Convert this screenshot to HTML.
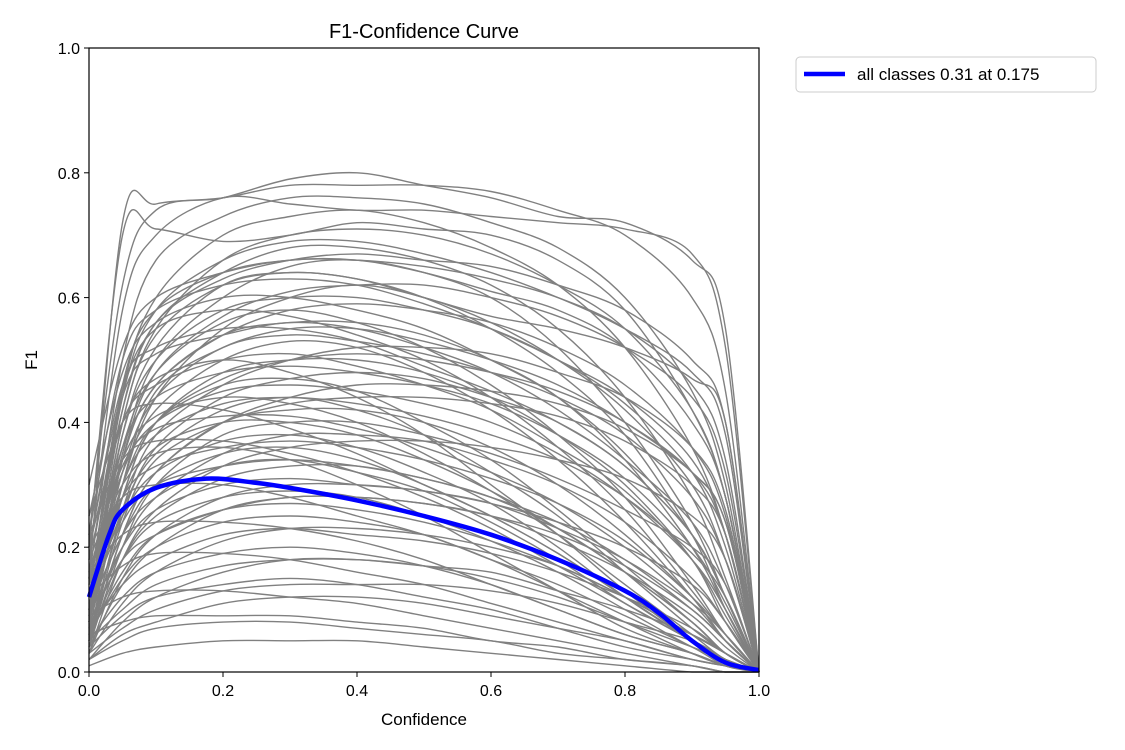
<!DOCTYPE html>
<html>
<head>
<meta charset="utf-8">
<style>
  html, body { margin:0; padding:0; background:#fff; }
  svg { display:block; font-family:"Liberation Sans", "DejaVu Sans", sans-serif; }
</style>
</head>
<body>
<svg id="chart" width="1125" height="750" viewBox="0 0 1125 750">
  <rect x="0" y="0" width="1125" height="750" fill="#fff"/>
  <text x="424" y="38" font-size="20" text-anchor="middle" fill="#000">F1-Confidence Curve</text>
  <g id="gray"></g>
  <g id="blue"></g>
  <rect x="89" y="48" width="670" height="624" fill="none" stroke="#000" stroke-width="1.2"/>
  <g id="xticks"></g>
  <g id="yticks"></g>
  <text x="424" y="725" font-size="17" text-anchor="middle">Confidence</text>
  <text transform="translate(37,360) rotate(-90)" font-size="17" text-anchor="middle">F1</text>
  <g>
    <rect x="796" y="57" width="300" height="35" rx="4" fill="#fff" stroke="#ccc" stroke-width="1"/>
    <line x1="804" y1="74" x2="845" y2="74" stroke="#0000ff" stroke-width="4.5"/>
    <text x="857" y="80" font-size="17">all classes 0.31 at 0.175</text>
  </g>
</svg>
<script>
const confGrid = [0,0.05,0.1,0.2,0.3,0.4,0.5,0.6,0.7,0.8,0.9,0.95,1.0];
const classCurves = [
[0.22,0.62,0.74,0.76,0.79,0.80,0.78,0.76,0.73,0.72,0.66,0.55,0],
[0.18,0.58,0.70,0.76,0.75,0.74,0.74,0.73,0.72,0.71,0.67,0.52,0],
[0.15,0.50,0.66,0.73,0.76,0.76,0.75,0.72,0.68,0.60,0.45,0.30,0],
[0.12,0.45,0.60,0.70,0.73,0.74,0.72,0.68,0.62,0.52,0.36,0.22,0],
[0.10,0.40,0.55,0.66,0.70,0.71,0.70,0.67,0.62,0.55,0.42,0.28,0],
[0.14,0.42,0.56,0.64,0.68,0.68,0.66,0.62,0.55,0.44,0.28,0.15,0],
[0.10,0.35,0.50,0.60,0.65,0.66,0.64,0.60,0.52,0.40,0.24,0.12,0],
[0.08,0.38,0.52,0.62,0.64,0.63,0.60,0.55,0.48,0.38,0.22,0.10,0],
[0.12,0.36,0.48,0.56,0.58,0.56,0.52,0.46,0.38,0.28,0.14,0.06,0],
[0.10,0.34,0.46,0.54,0.56,0.56,0.54,0.50,0.44,0.34,0.20,0.10,0],
[0.09,0.30,0.44,0.55,0.60,0.62,0.60,0.56,0.50,0.42,0.30,0.18,0],
[0.15,0.32,0.42,0.50,0.53,0.52,0.48,0.42,0.34,0.24,0.12,0.05,0],
[0.08,0.28,0.40,0.48,0.50,0.50,0.48,0.44,0.38,0.30,0.18,0.08,0],
[0.12,0.30,0.40,0.46,0.47,0.45,0.40,0.34,0.26,0.17,0.08,0.03,0],
[0.06,0.25,0.36,0.44,0.47,0.48,0.47,0.44,0.40,0.33,0.22,0.12,0],
[0.10,0.26,0.35,0.42,0.44,0.42,0.38,0.32,0.25,0.16,0.07,0.03,0],
[0.05,0.22,0.32,0.40,0.42,0.42,0.40,0.36,0.30,0.22,0.12,0.05,0],
[0.12,0.25,0.32,0.37,0.38,0.36,0.32,0.27,0.20,0.12,0.05,0.02,0],
[0.07,0.20,0.28,0.35,0.38,0.38,0.37,0.34,0.30,0.24,0.15,0.08,0],
[0.10,0.22,0.28,0.33,0.34,0.32,0.29,0.24,0.18,0.11,0.05,0.02,0],
[0.05,0.18,0.25,0.31,0.33,0.33,0.31,0.28,0.23,0.16,0.08,0.03,0],
[0.08,0.18,0.24,0.28,0.29,0.28,0.25,0.21,0.16,0.10,0.04,0.02,0],
[0.04,0.14,0.20,0.26,0.28,0.28,0.27,0.25,0.21,0.16,0.09,0.04,0],
[0.06,0.15,0.20,0.24,0.25,0.24,0.22,0.18,0.14,0.09,0.04,0.01,0],
[0.03,0.11,0.16,0.21,0.23,0.23,0.22,0.20,0.17,0.12,0.06,0.03,0],
[0.05,0.12,0.16,0.19,0.20,0.19,0.17,0.14,0.10,0.06,0.03,0.01,0],
[0.02,0.08,0.12,0.16,0.18,0.18,0.17,0.15,0.12,0.08,0.04,0.02,0],
[0.04,0.09,0.12,0.14,0.15,0.14,0.12,0.10,0.07,0.04,0.02,0.01,0],
[0.02,0.06,0.08,0.11,0.12,0.12,0.11,0.09,0.07,0.05,0.02,0.01,0],
[0.02,0.05,0.07,0.08,0.08,0.07,0.06,0.05,0.03,0.02,0.01,0,0],
[0.01,0.03,0.04,0.05,0.05,0.05,0.04,0.03,0.02,0.01,0,0,0],
[0.30,0.52,0.60,0.64,0.66,0.66,0.64,0.61,0.58,0.52,0.40,0.28,0],
[0.25,0.48,0.56,0.60,0.60,0.58,0.55,0.50,0.44,0.35,0.22,0.12,0],
[0.20,0.45,0.55,0.58,0.57,0.54,0.50,0.44,0.36,0.26,0.13,0.06,0],
[0.10,0.44,0.58,0.66,0.69,0.69,0.67,0.64,0.60,0.55,0.48,0.38,0],
[0.08,0.40,0.54,0.62,0.64,0.63,0.60,0.57,0.55,0.52,0.47,0.40,0],
[0.05,0.30,0.45,0.52,0.55,0.55,0.53,0.50,0.46,0.40,0.32,0.24,0],
[0.20,0.40,0.47,0.50,0.48,0.44,0.38,0.30,0.22,0.13,0.05,0.02,0],
[0.15,0.34,0.41,0.44,0.43,0.40,0.35,0.29,0.22,0.14,0.06,0.02,0],
[0.18,0.30,0.35,0.36,0.34,0.30,0.25,0.19,0.13,0.07,0.03,0.01,0],
[0.15,0.72,0.75,0.76,0.78,0.78,0.78,0.77,0.74,0.70,0.60,0.45,0],
[0.20,0.70,0.71,0.69,0.70,0.72,0.71,0.70,0.66,0.58,0.42,0.28,0],
[0.05,0.24,0.34,0.40,0.43,0.44,0.44,0.43,0.41,0.37,0.30,0.22,0],
[0.04,0.20,0.30,0.38,0.40,0.40,0.38,0.35,0.31,0.26,0.20,0.14,0],
[0.03,0.15,0.22,0.28,0.30,0.30,0.29,0.27,0.24,0.20,0.14,0.08,0],
[0.12,0.28,0.36,0.40,0.40,0.38,0.34,0.29,0.23,0.16,0.08,0.03,0],
[0.10,0.22,0.30,0.35,0.36,0.34,0.30,0.25,0.19,0.12,0.05,0.02,0],
[0.06,0.16,0.22,0.26,0.27,0.26,0.24,0.21,0.17,0.12,0.06,0.03,0],
[0.20,0.46,0.52,0.55,0.55,0.53,0.49,0.45,0.40,0.33,0.22,0.12,0],
[0.16,0.44,0.51,0.54,0.56,0.55,0.52,0.48,0.42,0.34,0.24,0.14,0],
[0.18,0.40,0.46,0.50,0.51,0.49,0.46,0.42,0.36,0.29,0.18,0.09,0],
[0.14,0.36,0.44,0.48,0.49,0.48,0.46,0.43,0.38,0.31,0.20,0.11,0],
[0.12,0.32,0.40,0.45,0.46,0.45,0.43,0.40,0.35,0.28,0.18,0.10,0],
[0.10,0.30,0.38,0.43,0.44,0.43,0.41,0.38,0.34,0.28,0.19,0.12,0],
[0.08,0.32,0.44,0.52,0.54,0.53,0.51,0.48,0.44,0.38,0.28,0.18,0],
[0.07,0.28,0.40,0.47,0.50,0.51,0.50,0.48,0.45,0.40,0.32,0.22,0],
[0.16,0.33,0.39,0.41,0.41,0.39,0.36,0.32,0.27,0.20,0.11,0.05,0],
[0.14,0.28,0.33,0.36,0.37,0.36,0.34,0.31,0.27,0.21,0.12,0.06,0],
[0.11,0.24,0.30,0.33,0.34,0.33,0.31,0.28,0.24,0.18,0.10,0.05,0],
[0.09,0.20,0.26,0.30,0.31,0.30,0.29,0.27,0.23,0.18,0.11,0.06,0],
[0.08,0.18,0.22,0.26,0.28,0.28,0.27,0.25,0.22,0.17,0.10,0.05,0],
[0.07,0.14,0.18,0.22,0.23,0.22,0.21,0.19,0.16,0.12,0.07,0.03,0],
[0.05,0.10,0.14,0.17,0.18,0.18,0.17,0.16,0.13,0.10,0.06,0.03,0],
[0.03,0.07,0.10,0.13,0.14,0.14,0.14,0.13,0.11,0.08,0.05,0.02,0],
[0.22,0.50,0.58,0.62,0.63,0.62,0.59,0.55,0.50,0.44,0.34,0.22,0],
[0.12,0.46,0.58,0.64,0.66,0.66,0.65,0.63,0.60,0.55,0.46,0.34,0],
[0.09,0.42,0.56,0.63,0.66,0.67,0.66,0.65,0.62,0.58,0.50,0.40,0],
[0.06,0.34,0.48,0.57,0.61,0.62,0.62,0.60,0.57,0.52,0.44,0.32,0],
[0.05,0.26,0.38,0.46,0.50,0.52,0.52,0.51,0.48,0.44,0.36,0.26,0],
[0.04,0.22,0.32,0.40,0.44,0.46,0.46,0.45,0.43,0.39,0.32,0.24,0],
[0.03,0.18,0.26,0.33,0.36,0.37,0.37,0.36,0.34,0.31,0.25,0.18,0],
[0.25,0.40,0.43,0.42,0.39,0.35,0.30,0.25,0.19,0.12,0.05,0.02,0],
[0.22,0.34,0.37,0.37,0.35,0.32,0.28,0.23,0.17,0.11,0.05,0.02,0],
[0.20,0.28,0.30,0.30,0.28,0.25,0.22,0.18,0.13,0.08,0.03,0.01,0],
[0.16,0.22,0.24,0.24,0.23,0.21,0.18,0.14,0.10,0.06,0.03,0.01,0],
[0.12,0.17,0.19,0.19,0.18,0.16,0.14,0.11,0.08,0.05,0.02,0.01,0],
[0.09,0.12,0.13,0.13,0.12,0.11,0.09,0.07,0.05,0.03,0.01,0,0],
[0.06,0.08,0.09,0.09,0.09,0.08,0.07,0.05,0.04,0.02,0.01,0,0],
[0.10,0.38,0.50,0.58,0.60,0.60,0.58,0.55,0.50,0.43,0.32,0.20,0],
[0.08,0.34,0.46,0.54,0.58,0.59,0.58,0.56,0.52,0.46,0.36,0.25,0]
];
const allConf = [0,0.03,0.05,0.1,0.175,0.25,0.3,0.4,0.5,0.6,0.7,0.8,0.85,0.9,0.95,1.0];
const allF1 = [0.12,0.22,0.26,0.295,0.31,0.303,0.295,0.275,0.25,0.22,0.18,0.13,0.095,0.05,0.015,0.003];
const xTickLabels = ["0.0","0.2","0.4","0.6","0.8","1.0"];
const yTickLabels = ["0.0","0.2","0.4","0.6","0.8","1.0"];

const NS = "http://www.w3.org/2000/svg";
const X0 = 89, X1 = 759, Y0 = 672, Y1 = 48;
function sx(v){ return X0 + v*(X1-X0); }
function sy(v){ return Y0 - v*(Y0-Y1); }
function pathFor(xs, ys){
  const p = xs.map((x,i)=>[sx(x), sy(ys[i])]);
  let d = "M"+p[0][0].toFixed(1)+","+p[0][1].toFixed(1);
  for (let i=0;i<p.length-1;i++){
    const a=p[Math.max(0,i-1)], b=p[i], c=p[i+1], e=p[Math.min(p.length-1,i+2)];
    const c1=[b[0]+(c[0]-a[0])/6, b[1]+(c[1]-a[1])/6];
    const c2=[c[0]-(e[0]-b[0])/6, c[1]-(e[1]-b[1])/6];
    c1[1]=Math.min(Y0,c1[1]); c2[1]=Math.min(Y0,c2[1]);
    d += " C"+c1[0].toFixed(1)+","+c1[1].toFixed(1)+" "+c2[0].toFixed(1)+","+c2[1].toFixed(1)+" "+c[0].toFixed(1)+","+c[1].toFixed(1);
  }
  return d;
}
const gray = document.getElementById("gray");
classCurves.forEach((vals)=>{
  const el = document.createElementNS(NS,"path");
  el.setAttribute("d", pathFor(confGrid, vals));
  el.setAttribute("fill","none");
  el.setAttribute("stroke","#808080");
  el.setAttribute("stroke-width","1.4");
  
  
  gray.appendChild(el);
});
const blue = document.getElementById("blue");
const bl = document.createElementNS(NS,"path");
bl.setAttribute("d", pathFor(allConf, allF1));
bl.setAttribute("fill","none");
bl.setAttribute("stroke","#0000ff");
bl.setAttribute("stroke-width","4.5");


blue.appendChild(bl);

const xt = document.getElementById("xticks");
xTickLabels.forEach((lab)=>{
  const x = sx(parseFloat(lab));
  const t = document.createElementNS(NS,"line");
  t.setAttribute("x1",x); t.setAttribute("x2",x); t.setAttribute("y1",Y0); t.setAttribute("y2",Y0+5);
  t.setAttribute("stroke","#000");
  
  
  xt.appendChild(t);
  const tx = document.createElementNS(NS,"text");
  tx.setAttribute("x",x); tx.setAttribute("y",Y0+24);
  tx.setAttribute("text-anchor","middle"); tx.setAttribute("font-size","16");
  tx.textContent = lab;
  
  
  xt.appendChild(tx);
});
const yt = document.getElementById("yticks");
yTickLabels.forEach((lab)=>{
  const y = sy(parseFloat(lab));
  const t = document.createElementNS(NS,"line");
  t.setAttribute("x1",X0-5); t.setAttribute("x2",X0); t.setAttribute("y1",y); t.setAttribute("y2",y);
  t.setAttribute("stroke","#000");
  
  
  yt.appendChild(t);
  const tx = document.createElementNS(NS,"text");
  tx.setAttribute("x",X0-9); tx.setAttribute("y",y+6);
  tx.setAttribute("text-anchor","end"); tx.setAttribute("font-size","16");
  tx.textContent = lab;
  
  
  yt.appendChild(tx);
});
</script>
</body>
</html>
